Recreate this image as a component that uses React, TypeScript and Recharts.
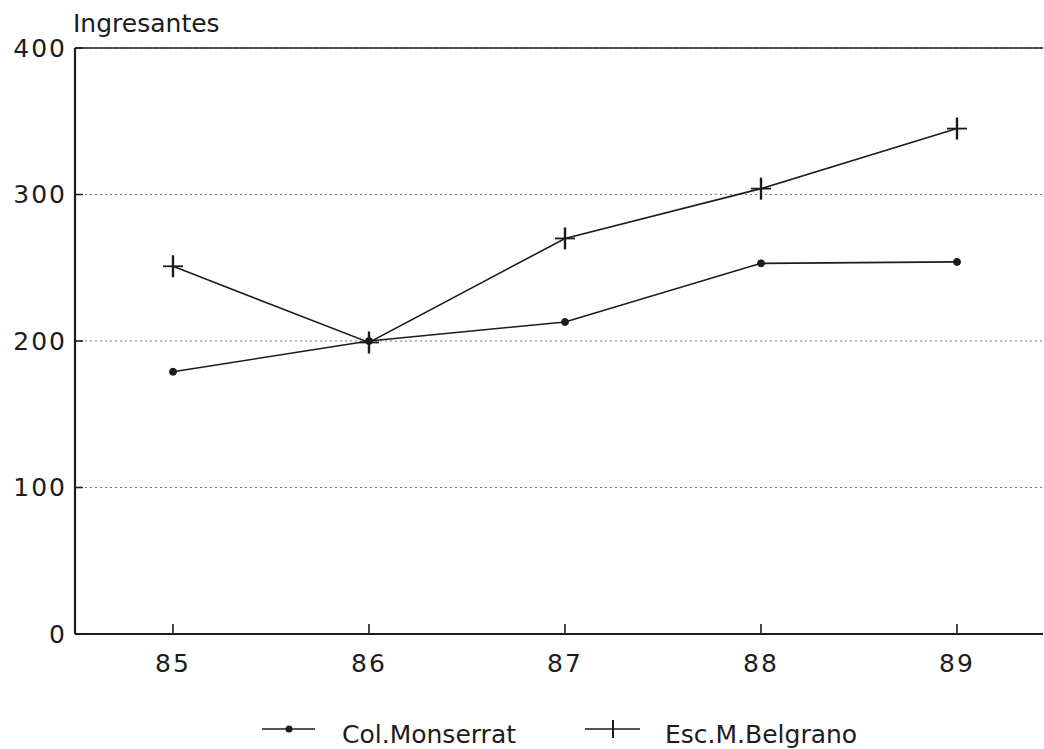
import React from 'react';
import { LineChart, Line, XAxis, YAxis, CartesianGrid, ReferenceLine } from 'recharts';

// años de ingreso (eje X)
const years = ['85', '86', '87', '88', '89'];
// ingresantes por escuela
const monserrat = [179, 200, 213, 253, 254];
const belgrano = [251, 199, 270, 304, 345];
const yTicks = [0, 100, 200, 300, 400];

const data = years.map((year, i) => ({
    year,
    monserrat: monserrat[i],
    belgrano: belgrano[i],
}));

const FONT = '"DejaVu Sans", Verdana, sans-serif';
const INK = '#1c1c1c';

const tickStyle = { fill: INK, fontSize: 25, fontFamily: FONT, letterSpacing: 2 };

const PlusDot = (props: any) => {
    const { cx, cy, index } = props;
    if (cx == null || cy == null) return <g key={`p-${index}`} />;
    return (
        <g key={`p-${index}`}>
            <line x1={cx} y1={cy - 11} x2={cx} y2={cy + 11} stroke={INK} strokeWidth={2.4} />
            <line x1={cx - 10} y1={cy} x2={cx + 10} y2={cy} stroke={INK} strokeWidth={1.8} />
        </g>
    );
};

const textStyle: React.CSSProperties = {
    position: 'absolute',
    fontFamily: FONT,
    fontSize: 25,
    lineHeight: '25px',
    color: INK,
    whiteSpace: 'nowrap',
};

const App: React.FC = () => {
    return (
        <div style={{ position: 'absolute', top: 0, left: 0, width: 1044, height: 749, background: '#fff' }}>
            <div style={{ ...textStyle, left: 73, top: 11 }}>Ingresantes</div>

            <LineChart width={1044} height={749} data={data} margin={{ top: 48, right: 1, bottom: 75, left: 0 }}>
                <CartesianGrid horizontal vertical={false} stroke="#777" strokeDasharray="2 3" />
                <ReferenceLine y={400} stroke={INK} strokeWidth={1.6} />
                <XAxis
                    dataKey="year"
                    height={40}
                    padding={{ left: 98, right: 86 }}
                    axisLine={{ stroke: INK, strokeWidth: 2 }}
                    tickLine={{ stroke: INK, strokeWidth: 1.6 }}
                    tickSize={-10}
                    tickMargin={30}
                    tick={tickStyle}
                />
                <YAxis
                    width={75}
                    domain={[0, 400]}
                    ticks={yTicks}
                    axisLine={{ stroke: INK, strokeWidth: 2.2 }}
                    tickLine={{ stroke: INK, strokeWidth: 1.6 }}
                    tickSize={-8}
                    tickMargin={16}
                    tick={tickStyle}
                />
                <Line
                    dataKey="monserrat"
                    stroke={INK}
                    strokeWidth={1.6}
                    dot={{ r: 3.5, fill: INK, stroke: INK, strokeWidth: 1 }}
                    isAnimationActive={false}
                />
                <Line
                    dataKey="belgrano"
                    stroke={INK}
                    strokeWidth={1.6}
                    dot={PlusDot}
                    isAnimationActive={false}
                />
            </LineChart>

            {/* leyenda */}
            <svg style={{ position: 'absolute', left: 255, top: 719 }} width={400} height={20}>
                <line x1={7} y1={10} x2={60} y2={10} stroke={INK} strokeWidth={1.5} />
                <circle cx={34} cy={10} r={3.5} fill={INK} />
                <line x1={330} y1={10} x2={385} y2={10} stroke={INK} strokeWidth={1.5} />
                <line x1={358} y1={1} x2={358} y2={19} stroke={INK} strokeWidth={2} />
            </svg>
            <div style={{ ...textStyle, left: 342, top: 722 }}>Col.Monserrat</div>
            <div style={{ ...textStyle, left: 665, top: 722 }}>Esc.M.Belgrano</div>
        </div>
    );
};

export default App;
